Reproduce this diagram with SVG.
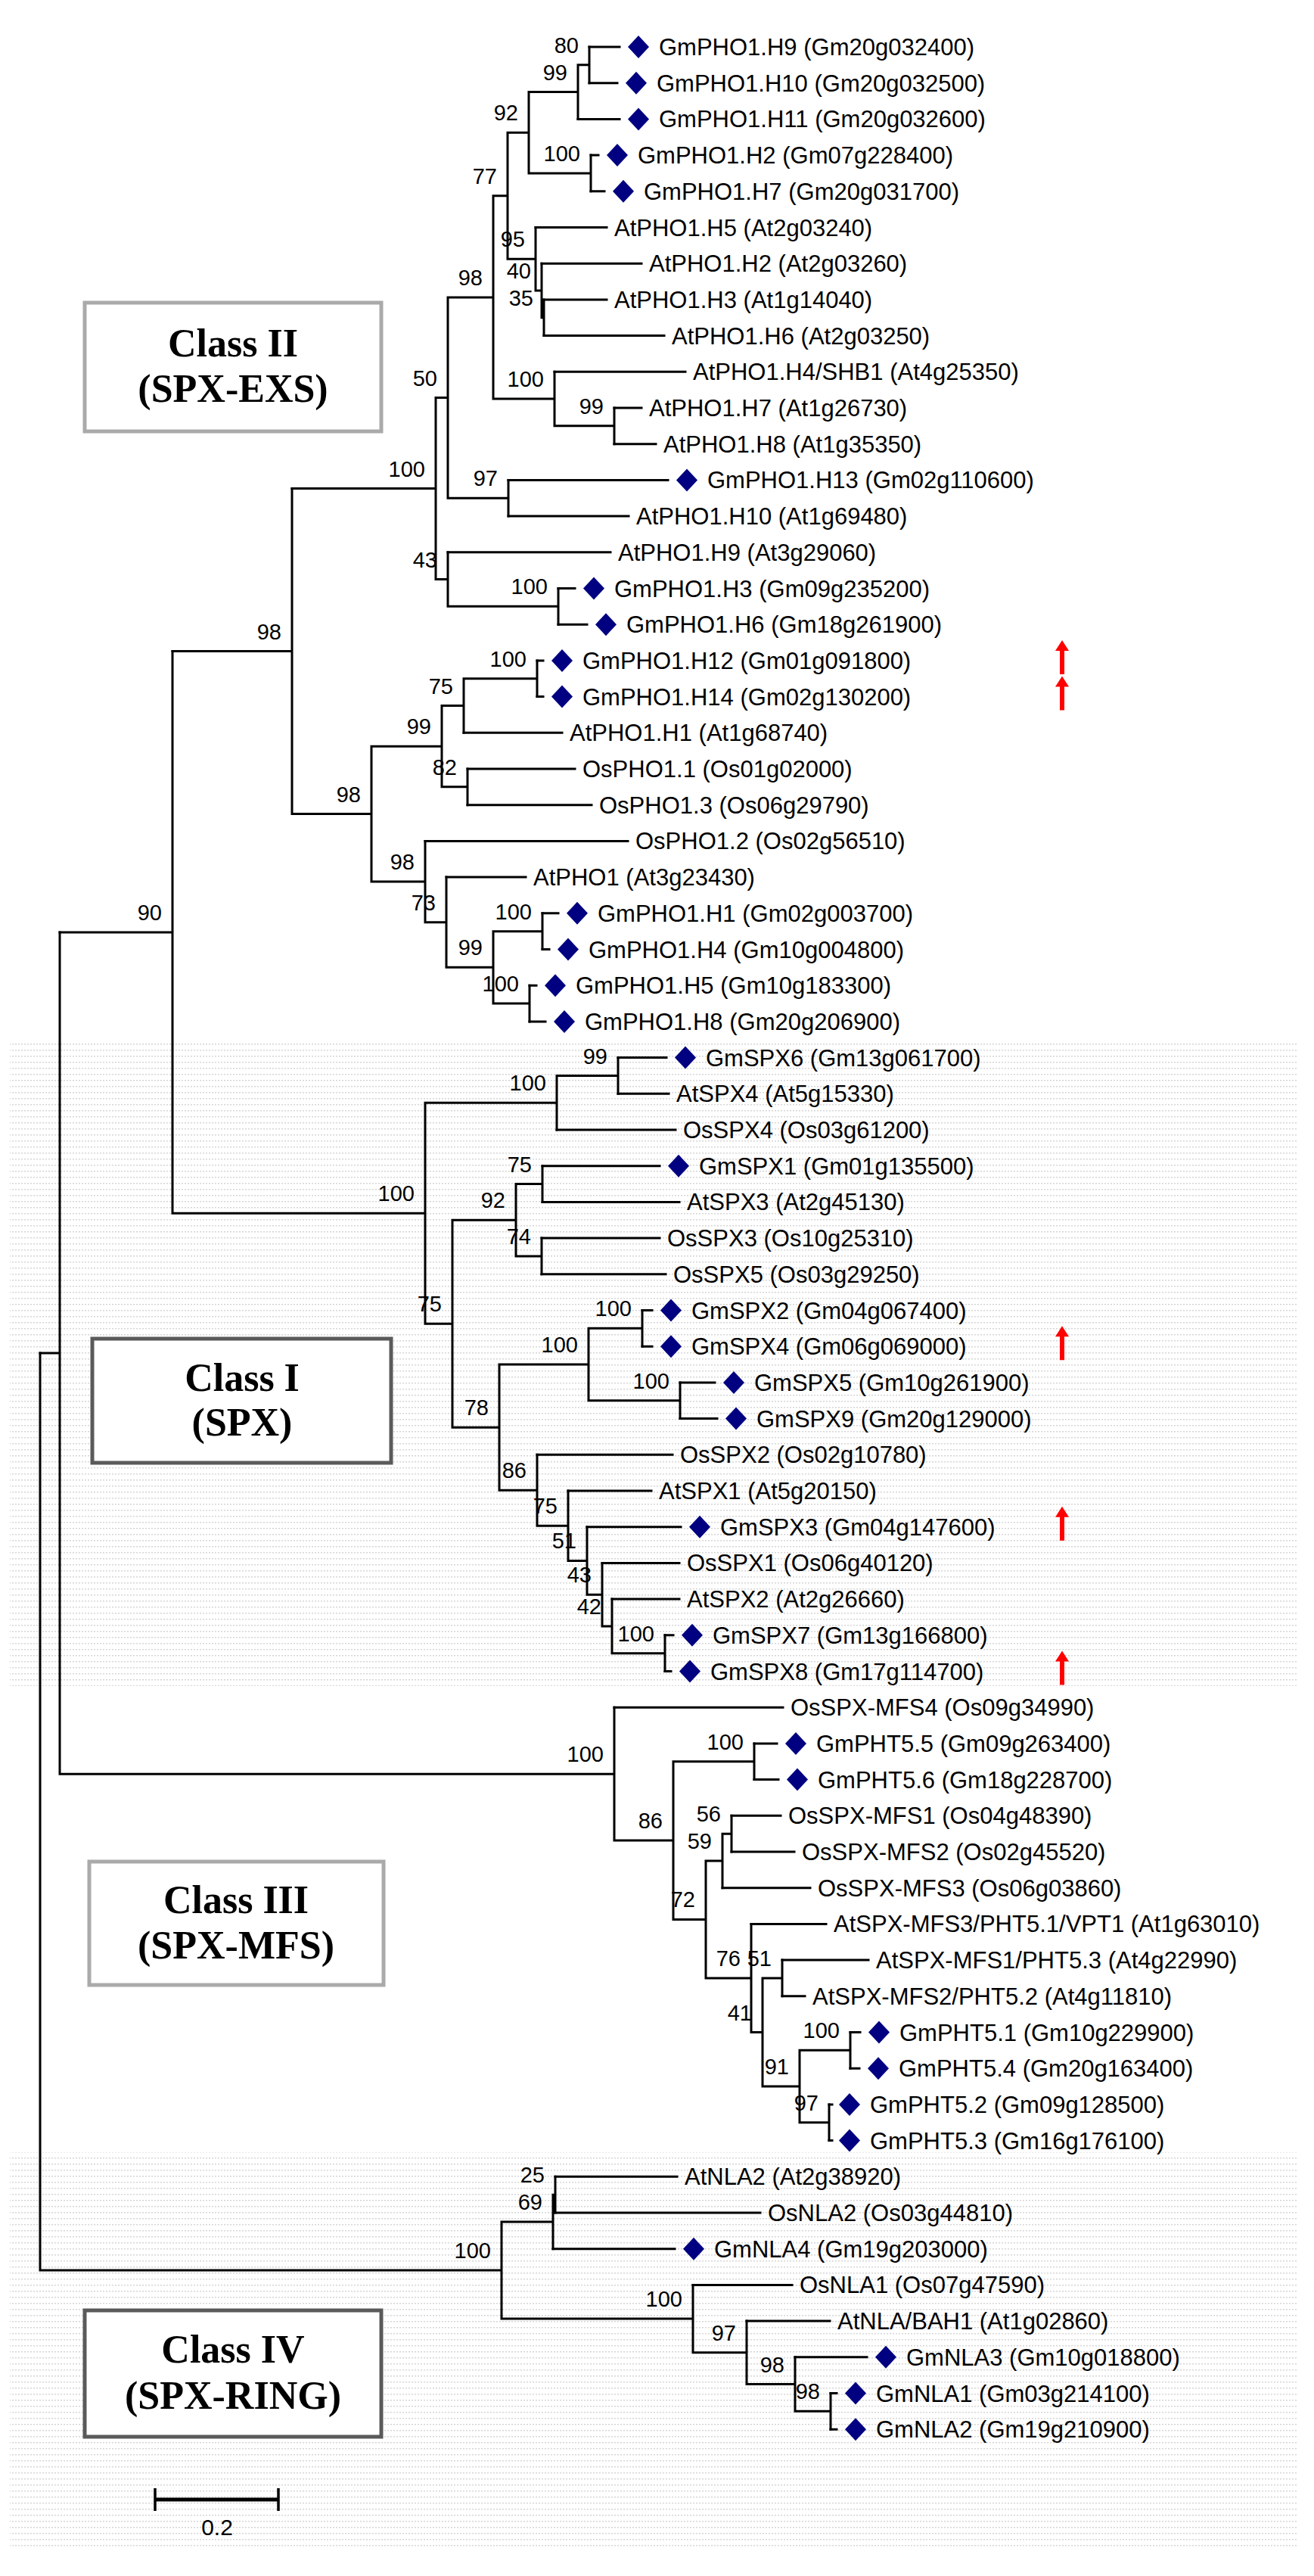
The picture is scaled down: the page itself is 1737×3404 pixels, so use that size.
<svg xmlns="http://www.w3.org/2000/svg" width="1737" height="3404" viewBox="0 0 1737 3404">
<style>
.br{fill:none;stroke:#000;stroke-width:3;stroke-linecap:square}
.lf{font-family:"Liberation Sans",Arial,sans-serif;font-size:31px;fill:#000}
.bs{font-family:"Liberation Sans",Arial,sans-serif;font-size:29px;fill:#000;text-anchor:end}
.cls{font-family:"Liberation Serif","Times New Roman",serif;font-size:52px;font-weight:bold;fill:#000;text-anchor:middle}
.boxL{fill:#fff;stroke:#aaaaaa;stroke-width:5}
.boxD{fill:#fff;stroke:#5a5a5a;stroke-width:5}
.sc{font-family:"Liberation Sans",Arial,sans-serif;font-size:30px;fill:#000;text-anchor:middle}
</style>
<defs>
<pattern id="dots" width="4" height="8" patternUnits="userSpaceOnUse"><rect x="0" y="3" width="2" height="1.5" fill="#d6d6d6"/></pattern>
<path id="dia" d="M0,-15 L14,0 L0,15 L-14,0 Z" fill="#000080"/>
<path id="arrow" d="M0,-27 L9,-13 L3,-13 L3,18 L-3,18 L-3,-13 L-9,-13 Z" fill="#ff0000"/>
</defs>
<rect x="0" y="0" width="1737" height="3404" fill="#fff"/>
<rect x="13" y="1379" width="1701" height="849" fill="url(#dots)"/>
<rect x="13" y="2844" width="1701" height="524" fill="url(#dots)"/>

<g id="connectors">
<path class="br" d="M779,62H819 M779,109.7H816 M764,157.4H819 M781,205.1H791 M781,252.8H799 M708,300.5H802 M716,348.2H848 M719,395.9H802 M719,443.6H878 M733,491.3H906 M812,539H848 M812,586.7H867 M672,634.4H883 M672,682.1H831 M592,729.8H807 M738,777.5H760 M738,825.2H776 M710,872.9H718 M710,920.6H718 M613,968.3H743 M618,1016H760 M618,1063.7H782 M562,1111.4H830 M590,1159.1H695 M717,1206.8H738 M717,1254.5H726 M700,1302.2H709 M700,1349.9H721"/>
<path class="br" d="M817,1397.6H881 M817,1445.3H884 M736,1493H893 M717,1540.7H872 M717,1588.4H898 M716,1636.1H872 M716,1683.8H880 M849,1731.5H862 M849,1779.2H862 M899,1826.9H945 M899,1874.6H948 M710,1922.3H889 M751,1970H861 M776,2017.7H900 M796,2065.4H898 M809,2113.1H898 M879,2160.8H890 M879,2208.5H887"/>
<path class="br" d="M812,2256.2H1035 M997,2303.9H1027 M997,2351.6H1029 M967,2399.3H1032 M967,2447H1050 M955,2494.7H1071 M993,2542.4H1092 M1034,2590.1H1148 M1034,2637.8H1064 M1124,2685.5H1137 M1124,2733.2H1136 M1096,2780.9H1100 M1096,2828.6H1100"/>
<path class="br" d="M734,2876.3H895 M734,2924H1005 M731,2971.7H892 M916,3019.4H1047 M987,3067.1H1097 M1051,3114.8H1146 M1098,3162.5H1106 M1098,3210.2H1106"/>
<path class="br" d="M764,85.85H779 M779,62V109.7 M699,121.6H764 M764,85.85V157.4 M699,228.95H781 M781,205.1V252.8 M671,175.3H699 M699,121.6V228.95 M716,419.75H719 M719,395.9V443.6 M708,384H716 M716,348.2V419.75 M671,342.2H708 M708,300.5V384 M652,258.8H671 M671,175.3V342.2 M733,562.85H812 M812,539V586.7 M652,527.1H733 M733,491.3V562.85 M592,393H652 M652,258.8V527.1 M592,658.25H672 M672,634.4V682.1 M576,525.6H592 M592,393V658.25 M592,801.35H738 M738,777.5V825.2 M576,765.6H592 M592,729.8V801.35 M386,645.6H576 M576,525.6V765.6"/>
<path class="br" d="M613,896.75H710 M710,872.9V920.6 M584,932.5H613 M613,896.75V968.3 M584,1039.85H618 M618,1016V1063.7 M491,986.2H584 M584,932.5V1039.85 M652,1230.65H717 M717,1206.8V1254.5 M652,1326.05H700 M700,1302.2V1349.9 M590,1278.35H652 M652,1230.65V1326.05 M562,1218.7H590 M590,1159.1V1278.35 M491,1165.05H562 M562,1111.4V1218.7 M386,1075.6H491 M491,986.2V1165.05 M228,860.6H386 M386,645.6V1075.6"/>
<path class="br" d="M736,1421.45H817 M817,1397.6V1445.3 M562,1457.2H736 M736,1421.45V1493 M682,1564.55H717 M717,1540.7V1588.4 M682,1659.95H716 M716,1636.1V1683.8 M598,1612.25H682 M682,1564.55V1659.95 M778,1755.35H849 M849,1731.5V1779.2 M778,1850.75H899 M899,1826.9V1874.6 M660,1803.05H778 M778,1755.35V1850.75 M809,2184.65H879 M879,2160.8V2208.5 M796,2148.9H809 M809,2113.1V2184.65 M776,2107.15H796 M796,2065.4V2148.9 M751,2062.4H776 M776,2017.7V2107.15 M710,2016.2H751 M751,1970V2062.4 M660,1969.25H710 M710,1922.3V2016.2 M598,1886.15H660 M660,1803.05V1969.25 M562,1749.2H598 M598,1612.25V1886.15 M228,1603.2H562 M562,1457.2V1749.2 M79,1231.9H228 M228,860.6V1603.2"/>
<path class="br" d="M890,2327.75H997 M997,2303.9V2351.6 M955,2423.15H967 M967,2399.3V2447 M933,2458.9H955 M955,2423.15V2494.7 M1008,2613.95H1034 M1034,2590.1V2637.8 M1057,2709.35H1124 M1124,2685.5V2733.2 M1057,2804.75H1096 M1096,2780.9V2828.6 M1008,2757.05H1057 M1057,2709.35V2804.75 M993,2685.5H1008 M1008,2613.95V2757.05 M933,2613.95H993 M993,2542.4V2685.5 M890,2536.4H933 M933,2458.9V2613.95 M812,2432.1H890 M890,2327.75V2536.4 M79,2344.15H812 M812,2256.2V2432.1 M53,1788H79 M79,1231.9V2344.15"/>
<path class="br" d="M731,2900.15H734 M734,2876.3V2924 M663,2935.9H731 M731,2900.15V2971.7 M1051,3186.35H1098 M1098,3162.5V3210.2 M987,3150.6H1051 M1051,3114.8V3186.35 M916,3108.85H987 M987,3067.1V3150.6 M663,3064.1H916 M916,3019.4V3108.85 M53,3000H663 M663,2935.9V3064.1 M53,1788V3000"/>
</g>

<g id="support">
<text class="bs" x="765" y="69.9">80</text>
<text class="bs" x="750" y="105.6">99</text>
<text class="bs" x="767" y="213">100</text>
<text class="bs" x="685" y="159.3">92</text>
<text class="bs" x="705" y="403.8">35</text>
<text class="bs" x="702" y="368">40</text>
<text class="bs" x="694" y="326.2">95</text>
<text class="bs" x="657" y="242.8">77</text>
<text class="bs" x="798" y="546.9">99</text>
<text class="bs" x="719" y="511.1">100</text>
<text class="bs" x="638" y="377">98</text>
<text class="bs" x="658" y="642.3">97</text>
<text class="bs" x="578" y="509.6">50</text>
<text class="bs" x="724" y="785.4">100</text>
<text class="bs" x="578" y="749.6">43</text>
<text class="bs" x="562" y="629.6">100</text>
<text class="bs" x="696" y="880.8">100</text>
<text class="bs" x="599" y="916.5">75</text>
<text class="bs" x="604" y="1023.9">82</text>
<text class="bs" x="570" y="970.2">99</text>
<text class="bs" x="703" y="1214.7">100</text>
<text class="bs" x="686" y="1310.1">100</text>
<text class="bs" x="638" y="1262.4">99</text>
<text class="bs" x="576" y="1202.7">73</text>
<text class="bs" x="548" y="1149.1">98</text>
<text class="bs" x="477" y="1059.6">98</text>
<text class="bs" x="372" y="844.6">98</text>
<text class="bs" x="803" y="1405.5">99</text>
<text class="bs" x="722" y="1441.2">100</text>
<text class="bs" x="703" y="1548.6">75</text>
<text class="bs" x="702" y="1644">74</text>
<text class="bs" x="668" y="1596.3">92</text>
<text class="bs" x="835" y="1739.4">100</text>
<text class="bs" x="885" y="1834.8">100</text>
<text class="bs" x="764" y="1787.1">100</text>
<text class="bs" x="865" y="2168.7">100</text>
<text class="bs" x="795" y="2132.9">42</text>
<text class="bs" x="782" y="2091.2">43</text>
<text class="bs" x="762" y="2046.4">51</text>
<text class="bs" x="737" y="2000.2">75</text>
<text class="bs" x="696" y="1953.3">86</text>
<text class="bs" x="646" y="1870.2">78</text>
<text class="bs" x="584" y="1733.2">75</text>
<text class="bs" x="548" y="1587.2">100</text>
<text class="bs" x="214" y="1215.9">90</text>
<text class="bs" x="983" y="2311.8">100</text>
<text class="bs" x="953" y="2407.2">56</text>
<text class="bs" x="941" y="2442.9">59</text>
<text class="bs" x="1020" y="2598">51</text>
<text class="bs" x="1110" y="2693.4">100</text>
<text class="bs" x="1082" y="2788.8">97</text>
<text class="bs" x="1043" y="2741.1">91</text>
<text class="bs" x="994" y="2669.5">41</text>
<text class="bs" x="979" y="2598">76</text>
<text class="bs" x="919" y="2520.4">72</text>
<text class="bs" x="876" y="2416.1">86</text>
<text class="bs" x="798" y="2328.2">100</text>
<text class="bs" x="720" y="2884.2">25</text>
<text class="bs" x="717" y="2919.9">69</text>
<text class="bs" x="1084" y="3170.4">98</text>
<text class="bs" x="1037" y="3134.6">98</text>
<text class="bs" x="973" y="3092.9">97</text>
<text class="bs" x="902" y="3048.1">100</text>
<text class="bs" x="649" y="2984">100</text>
</g>

<g id="leaf01"><use href="#dia" x="844" y="62"/><text class="lf" x="871" y="73">GmPHO1.H9 (Gm20g032400)</text></g>
<g id="leaf02"><use href="#dia" x="841" y="109.7"/><text class="lf" x="868" y="120.7">GmPHO1.H10 (Gm20g032500)</text></g>
<g id="leaf03"><use href="#dia" x="844" y="157.4"/><text class="lf" x="871" y="168.4">GmPHO1.H11 (Gm20g032600)</text></g>
<g id="leaf04"><use href="#dia" x="816" y="205.1"/><text class="lf" x="843" y="216.1">GmPHO1.H2 (Gm07g228400)</text></g>
<g id="leaf05"><use href="#dia" x="824" y="252.8"/><text class="lf" x="851" y="263.8">GmPHO1.H7 (Gm20g031700)</text></g>
<g id="leaf06"><text class="lf" x="812" y="311.5">AtPHO1.H5 (At2g03240)</text></g>
<g id="leaf07"><text class="lf" x="858" y="359.2">AtPHO1.H2 (At2g03260)</text></g>
<g id="leaf08"><text class="lf" x="812" y="406.9">AtPHO1.H3 (At1g14040)</text></g>
<g id="leaf09"><text class="lf" x="888" y="454.6">AtPHO1.H6 (At2g03250)</text></g>
<g id="leaf10"><text class="lf" x="916" y="502.3">AtPHO1.H4/SHB1 (At4g25350)</text></g>
<g id="leaf11"><text class="lf" x="858" y="550">AtPHO1.H7 (At1g26730)</text></g>
<g id="leaf12"><text class="lf" x="877" y="597.7">AtPHO1.H8 (At1g35350)</text></g>
<g id="leaf13"><use href="#dia" x="908" y="634.4"/><text class="lf" x="935" y="645.4">GmPHO1.H13 (Gm02g110600)</text></g>
<g id="leaf14"><text class="lf" x="841" y="693.1">AtPHO1.H10 (At1g69480)</text></g>
<g id="leaf15"><text class="lf" x="817" y="740.8">AtPHO1.H9 (At3g29060)</text></g>
<g id="leaf16"><use href="#dia" x="785" y="777.5"/><text class="lf" x="812" y="788.5">GmPHO1.H3 (Gm09g235200)</text></g>
<g id="leaf17"><use href="#dia" x="801" y="825.2"/><text class="lf" x="828" y="836.2">GmPHO1.H6 (Gm18g261900)</text></g>
<g id="leaf18"><use href="#dia" x="743" y="872.9"/><text class="lf" x="770" y="883.9">GmPHO1.H12 (Gm01g091800)</text><use href="#arrow" x="1404" y="872.9"/></g>
<g id="leaf19"><use href="#dia" x="743" y="920.6"/><text class="lf" x="770" y="931.6">GmPHO1.H14 (Gm02g130200)</text><use href="#arrow" x="1404" y="920.6"/></g>
<g id="leaf20"><text class="lf" x="753" y="979.3">AtPHO1.H1 (At1g68740)</text></g>
<g id="leaf21"><text class="lf" x="770" y="1027">OsPHO1.1 (Os01g02000)</text></g>
<g id="leaf22"><text class="lf" x="792" y="1074.7">OsPHO1.3 (Os06g29790)</text></g>
<g id="leaf23"><text class="lf" x="840" y="1122.4">OsPHO1.2 (Os02g56510)</text></g>
<g id="leaf24"><text class="lf" x="705" y="1170.1">AtPHO1 (At3g23430)</text></g>
<g id="leaf25"><use href="#dia" x="763" y="1206.8"/><text class="lf" x="790" y="1217.8">GmPHO1.H1 (Gm02g003700)</text></g>
<g id="leaf26"><use href="#dia" x="751" y="1254.5"/><text class="lf" x="778" y="1265.5">GmPHO1.H4 (Gm10g004800)</text></g>
<g id="leaf27"><use href="#dia" x="734" y="1302.2"/><text class="lf" x="761" y="1313.2">GmPHO1.H5 (Gm10g183300)</text></g>
<g id="leaf28"><use href="#dia" x="746" y="1349.9"/><text class="lf" x="773" y="1360.9">GmPHO1.H8 (Gm20g206900)</text></g>
<g id="leaf29"><use href="#dia" x="906" y="1397.6"/><text class="lf" x="933" y="1408.6">GmSPX6 (Gm13g061700)</text></g>
<g id="leaf30"><text class="lf" x="894" y="1456.3">AtSPX4 (At5g15330)</text></g>
<g id="leaf31"><text class="lf" x="903" y="1504">OsSPX4 (Os03g61200)</text></g>
<g id="leaf32"><use href="#dia" x="897" y="1540.7"/><text class="lf" x="924" y="1551.7">GmSPX1 (Gm01g135500)</text></g>
<g id="leaf33"><text class="lf" x="908" y="1599.4">AtSPX3 (At2g45130)</text></g>
<g id="leaf34"><text class="lf" x="882" y="1647.1">OsSPX3 (Os10g25310)</text></g>
<g id="leaf35"><text class="lf" x="890" y="1694.8">OsSPX5 (Os03g29250)</text></g>
<g id="leaf36"><use href="#dia" x="887" y="1731.5"/><text class="lf" x="914" y="1742.5">GmSPX2 (Gm04g067400)</text></g>
<g id="leaf37"><use href="#dia" x="887" y="1779.2"/><text class="lf" x="914" y="1790.2">GmSPX4 (Gm06g069000)</text><use href="#arrow" x="1404" y="1779.2"/></g>
<g id="leaf38"><use href="#dia" x="970" y="1826.9"/><text class="lf" x="997" y="1837.9">GmSPX5 (Gm10g261900)</text></g>
<g id="leaf39"><use href="#dia" x="973" y="1874.6"/><text class="lf" x="1000" y="1885.6">GmSPX9 (Gm20g129000)</text></g>
<g id="leaf40"><text class="lf" x="899" y="1933.3">OsSPX2 (Os02g10780)</text></g>
<g id="leaf41"><text class="lf" x="871" y="1981">AtSPX1 (At5g20150)</text></g>
<g id="leaf42"><use href="#dia" x="925" y="2017.7"/><text class="lf" x="952" y="2028.7">GmSPX3 (Gm04g147600)</text><use href="#arrow" x="1404" y="2017.7"/></g>
<g id="leaf43"><text class="lf" x="908" y="2076.4">OsSPX1 (Os06g40120)</text></g>
<g id="leaf44"><text class="lf" x="908" y="2124.1">AtSPX2 (At2g26660)</text></g>
<g id="leaf45"><use href="#dia" x="915" y="2160.8"/><text class="lf" x="942" y="2171.8">GmSPX7 (Gm13g166800)</text></g>
<g id="leaf46"><use href="#dia" x="912" y="2208.5"/><text class="lf" x="939" y="2219.5">GmSPX8 (Gm17g114700)</text><use href="#arrow" x="1404" y="2208.5"/></g>
<g id="leaf47"><text class="lf" x="1045" y="2267.2">OsSPX-MFS4 (Os09g34990)</text></g>
<g id="leaf48"><use href="#dia" x="1052" y="2303.9"/><text class="lf" x="1079" y="2314.9">GmPHT5.5 (Gm09g263400)</text></g>
<g id="leaf49"><use href="#dia" x="1054" y="2351.6"/><text class="lf" x="1081" y="2362.6">GmPHT5.6 (Gm18g228700)</text></g>
<g id="leaf50"><text class="lf" x="1042" y="2410.3">OsSPX-MFS1 (Os04g48390)</text></g>
<g id="leaf51"><text class="lf" x="1060" y="2458">OsSPX-MFS2 (Os02g45520)</text></g>
<g id="leaf52"><text class="lf" x="1081" y="2505.7">OsSPX-MFS3 (Os06g03860)</text></g>
<g id="leaf53"><text class="lf" x="1102" y="2553.4">AtSPX-MFS3/PHT5.1/VPT1 (At1g63010)</text></g>
<g id="leaf54"><text class="lf" x="1158" y="2601.1">AtSPX-MFS1/PHT5.3 (At4g22990)</text></g>
<g id="leaf55"><text class="lf" x="1074" y="2648.8">AtSPX-MFS2/PHT5.2 (At4g11810)</text></g>
<g id="leaf56"><use href="#dia" x="1162" y="2685.5"/><text class="lf" x="1189" y="2696.5">GmPHT5.1 (Gm10g229900)</text></g>
<g id="leaf57"><use href="#dia" x="1161" y="2733.2"/><text class="lf" x="1188" y="2744.2">GmPHT5.4 (Gm20g163400)</text></g>
<g id="leaf58"><use href="#dia" x="1123" y="2780.9"/><text class="lf" x="1150" y="2791.9">GmPHT5.2 (Gm09g128500)</text></g>
<g id="leaf59"><use href="#dia" x="1123" y="2828.6"/><text class="lf" x="1150" y="2839.6">GmPHT5.3 (Gm16g176100)</text></g>
<g id="leaf60"><text class="lf" x="905" y="2887.3">AtNLA2 (At2g38920)</text></g>
<g id="leaf61"><text class="lf" x="1015" y="2935">OsNLA2 (Os03g44810)</text></g>
<g id="leaf62"><use href="#dia" x="917" y="2971.7"/><text class="lf" x="944" y="2982.7">GmNLA4 (Gm19g203000)</text></g>
<g id="leaf63"><text class="lf" x="1057" y="3030.4">OsNLA1 (Os07g47590)</text></g>
<g id="leaf64"><text class="lf" x="1107" y="3078.1">AtNLA/BAH1 (At1g02860)</text></g>
<g id="leaf65"><use href="#dia" x="1171" y="3114.8"/><text class="lf" x="1198" y="3125.8">GmNLA3 (Gm10g018800)</text></g>
<g id="leaf66"><use href="#dia" x="1131" y="3162.5"/><text class="lf" x="1158" y="3173.5">GmNLA1 (Gm03g214100)</text></g>
<g id="leaf67"><use href="#dia" x="1131" y="3210.2"/><text class="lf" x="1158" y="3221.2">GmNLA2 (Gm19g210900)</text></g>

<g id="class2"><rect class="boxL" x="112" y="400" width="392" height="170"/><text class="cls" x="308" y="471">Class II</text><text class="cls" x="308" y="531">(SPX-EXS)</text></g>
<g id="class1"><rect class="boxD" x="122" y="1769" width="395" height="164"/><text class="cls" x="320" y="1838">Class I</text><text class="cls" x="320" y="1897">(SPX)</text></g>
<g id="class3"><rect class="boxL" x="118" y="2460" width="389" height="163"/><text class="cls" x="312" y="2528">Class III</text><text class="cls" x="312" y="2588">(SPX-MFS)</text></g>
<g id="class4"><rect class="boxD" x="112" y="3053" width="392" height="167"/><text class="cls" x="308" y="3122">Class IV</text><text class="cls" x="308" y="3183">(SPX-RING)</text></g>

<g id="scalebar"><path d="M205,3303H368" stroke="#000" stroke-width="5" fill="none"/><path d="M205,3288V3318 M368,3288V3318" stroke="#000" stroke-width="3.5" fill="none"/><text class="sc" x="287" y="3350">0.2</text></g>
</svg>
